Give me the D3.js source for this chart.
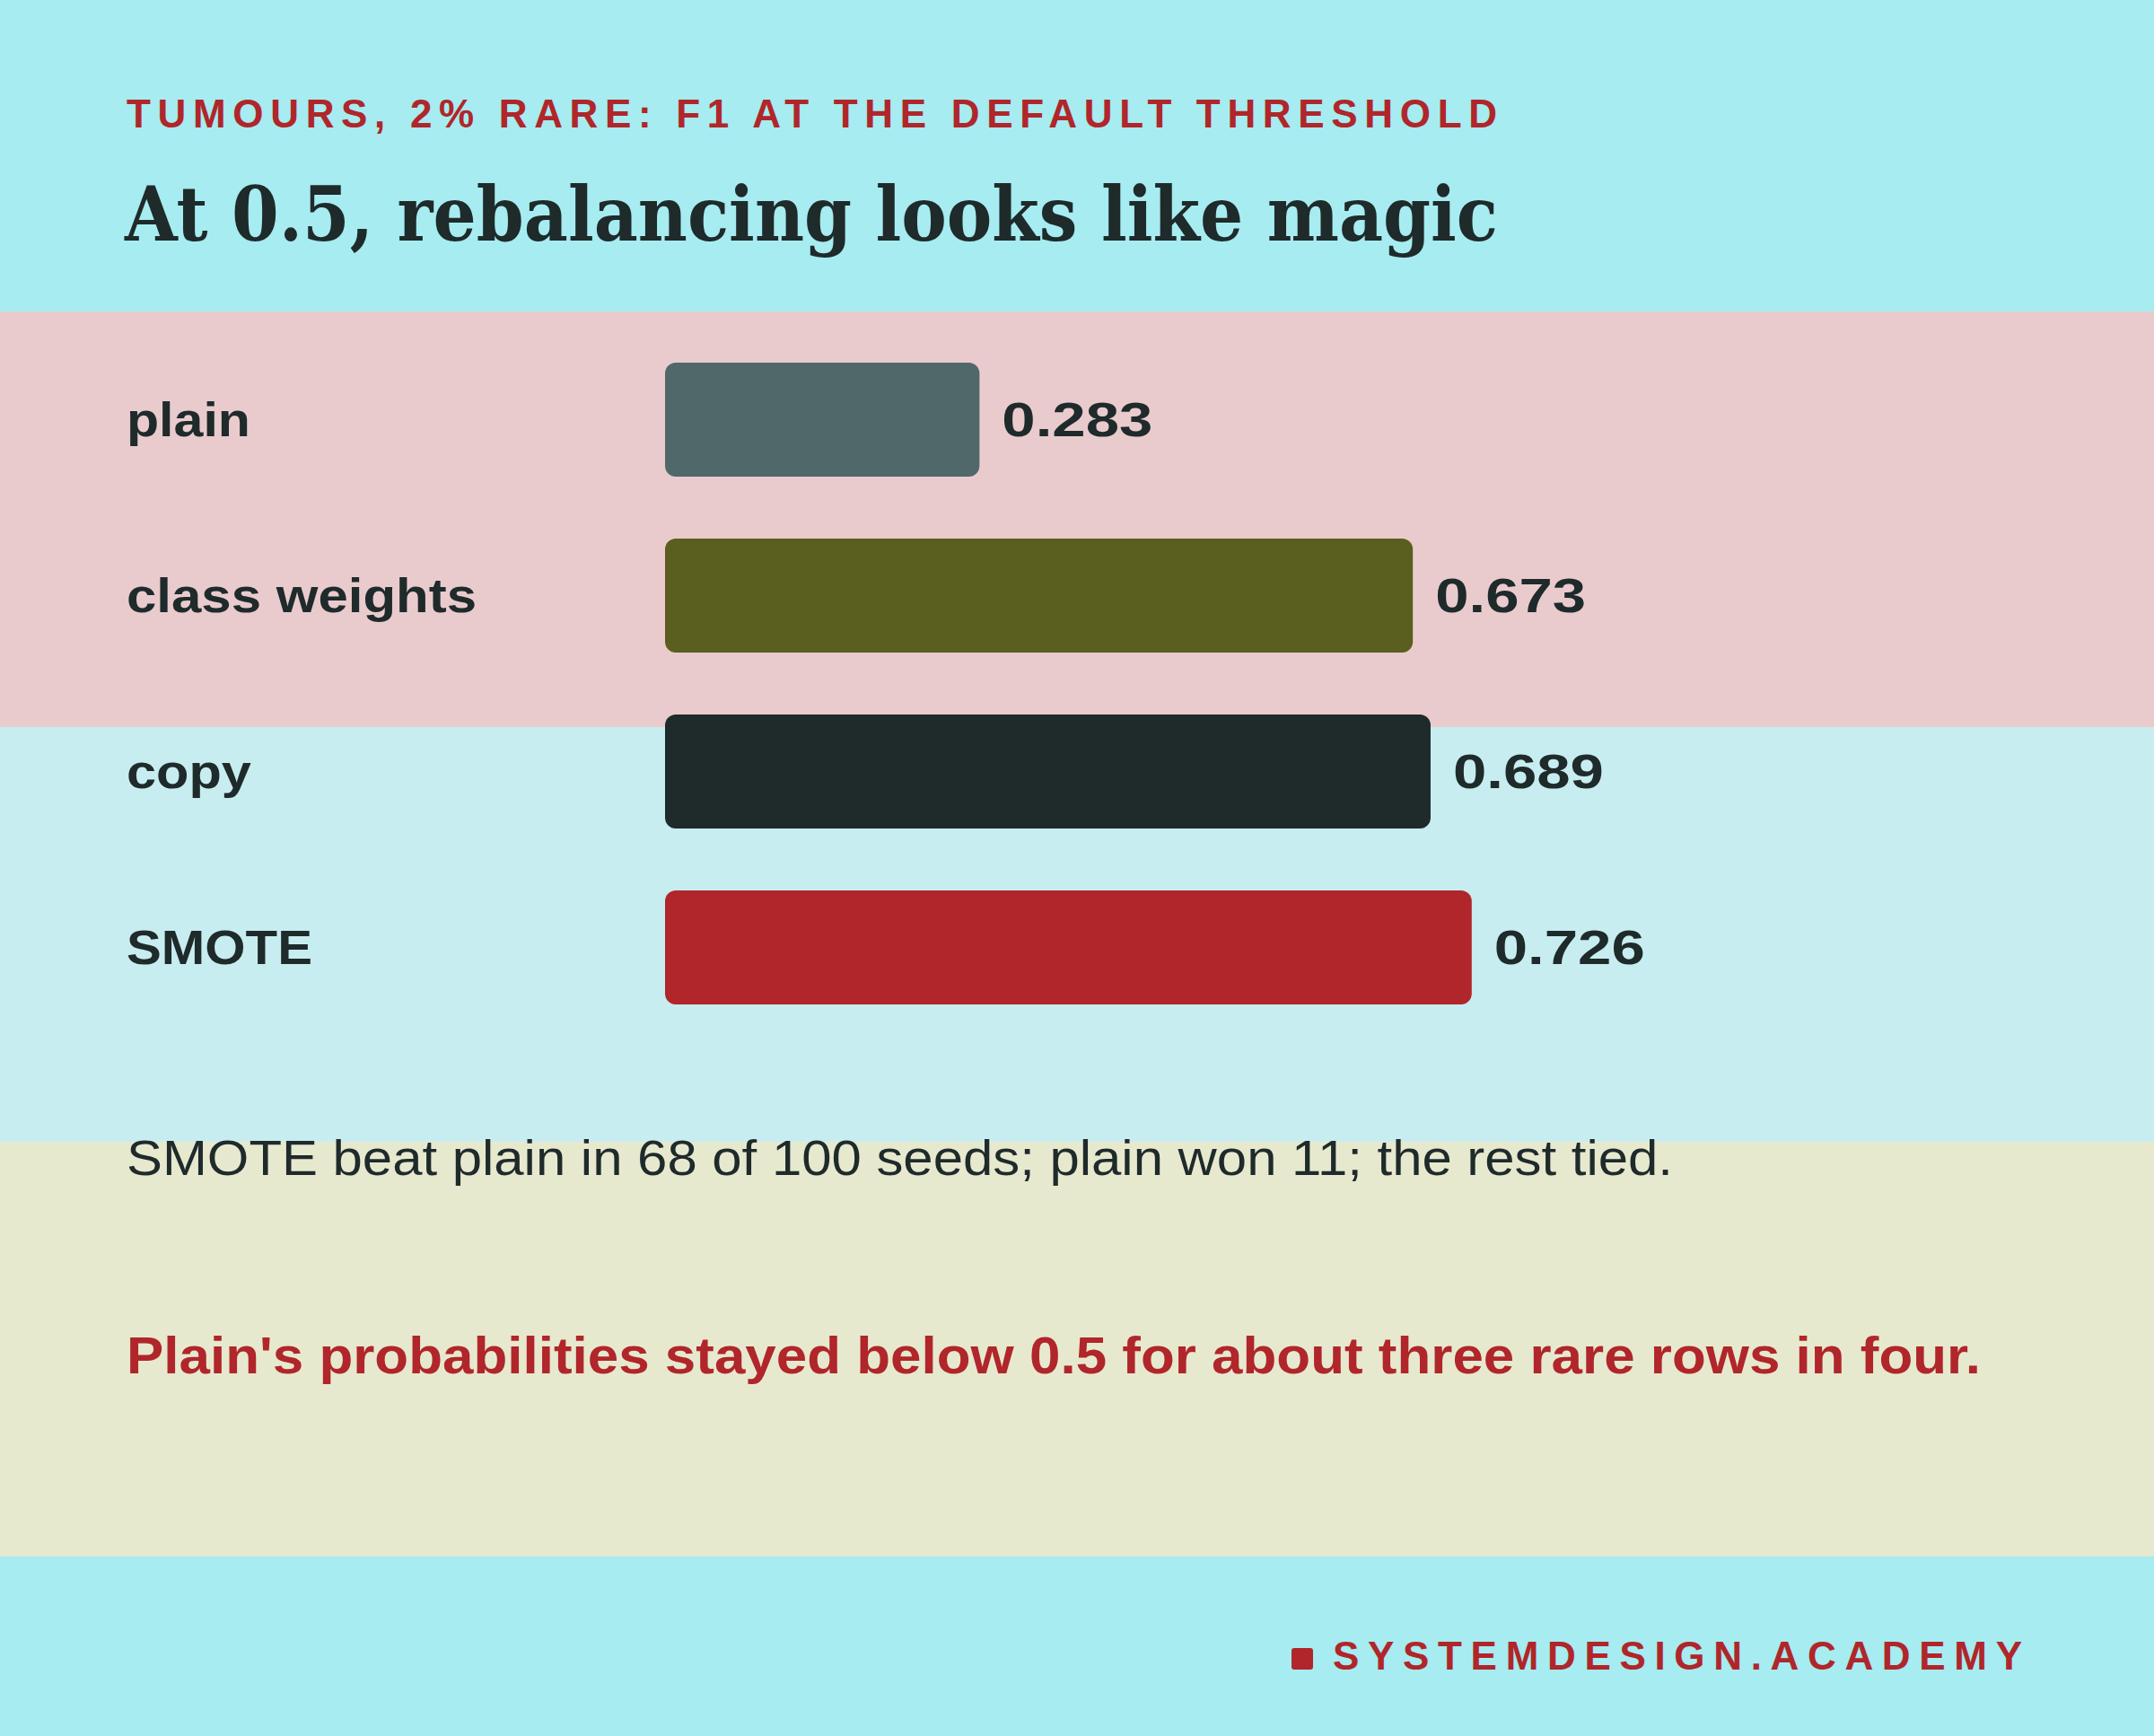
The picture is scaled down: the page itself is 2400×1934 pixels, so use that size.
<!DOCTYPE html>
<html><head><meta charset="utf-8">
<script src="https://cdn.jsdelivr.net/npm/d3@7"></script>
<style>body{margin:0;background:#a6ecf0}svg{display:block}</style>
</head><body>
<script>
const categories = ["plain","class weights","copy","SMOTE"];
const values = [0.283,0.673,0.689,0.726];
const colors = ["#50686a","#5a5e1e","#1f2a2b","#b0262a"];
const labelWidths = [138,390,139,207];
const W=2400,H=1934;
const svg=d3.select("body").append("svg").attr("width",W).attr("height",H);
const bands=[[0,347,"#a6ecf0"],[347,810,"#eacbcd"],[810,1272,"#c7edf0"],[1272,1734,"#e7e9cf"],[1734,1934,"#a6ecf0"]];
svg.selectAll("rect.band").data(bands).join("rect").attr("x",0).attr("y",d=>d[0]).attr("width",W).attr("height",d=>d[1]-d[0]).attr("fill",d=>d[2]);
const sans="'Liberation Sans', Arial, Helvetica, sans-serif";
svg.append("text").attr("x",141).attr("y",142).attr("fill","#b0262a").attr("font-family",sans).attr("font-weight","bold").attr("font-size",44).attr("textLength",1527).attr("lengthAdjust","spacing").text("TUMOURS, 2% RARE: F1 AT THE DEFAULT THRESHOLD");
svg.append("text").attr("x",139).attr("y",268).attr("fill","#1f2a2b").attr("font-family","'DejaVu Serif','Liberation Serif',serif").attr("font-weight","bold").attr("font-size",84).attr("textLength",1530).attr("lengthAdjust","spacingAndGlyphs").text("At 0.5, rebalancing looks like magic");
const x=d3.scaleLinear().domain([0,1]).range([741,741+1238]);
const pi=69/196;
const y=d3.scaleBand().domain(categories).range([404-34.5,404-34.5+784]).paddingInner(pi).paddingOuter(pi/2);
const g=svg.append("g");
categories.forEach((c,i)=>{
  g.append("rect").attr("x",x(0)).attr("y",y(c)).attr("width",x(values[i])-x(0)).attr("height",y.bandwidth()).attr("rx",12).attr("fill",colors[i]);
  g.append("text").attr("x",141).attr("y",y(c)+63).attr("dy","0.36em").attr("font-family",sans).attr("font-weight","bold").attr("font-size",54).attr("fill","#1f2a2b").attr("textLength",labelWidths[i]).attr("lengthAdjust","spacingAndGlyphs").text(c);
  g.append("text").attr("x",x(values[i])+25).attr("y",y(c)+63).attr("dy","0.36em").attr("font-family",sans).attr("font-weight","bold").attr("font-size",54).attr("fill","#1f2a2b").attr("textLength",168).attr("lengthAdjust","spacingAndGlyphs").text(values[i].toFixed(3));
});
svg.append("text").attr("x",141).attr("y",1309).attr("font-family",sans).attr("font-size",56).attr("fill","#1f2a2b").attr("textLength",1723).attr("lengthAdjust","spacingAndGlyphs").text("SMOTE beat plain in 68 of 100 seeds; plain won 11; the rest tied.");
svg.append("text").attr("x",141).attr("y",1530).attr("font-family",sans).attr("font-weight","bold").attr("font-size",58).attr("fill","#b0262a").attr("textLength",2066).attr("lengthAdjust","spacingAndGlyphs").text("Plain's probabilities stayed below 0.5 for about three rare rows in four.");
svg.append("rect").attr("x",1439).attr("y",1836).attr("width",24).attr("height",24).attr("rx",3).attr("fill","#b0262a");
svg.append("text").attr("x",1485).attr("y",1860).attr("font-family",sans).attr("font-weight","bold").attr("font-size",44).attr("fill","#b0262a").attr("textLength",768).attr("lengthAdjust","spacing").text("SYSTEMDESIGN.ACADEMY");
</script>
</body></html>
